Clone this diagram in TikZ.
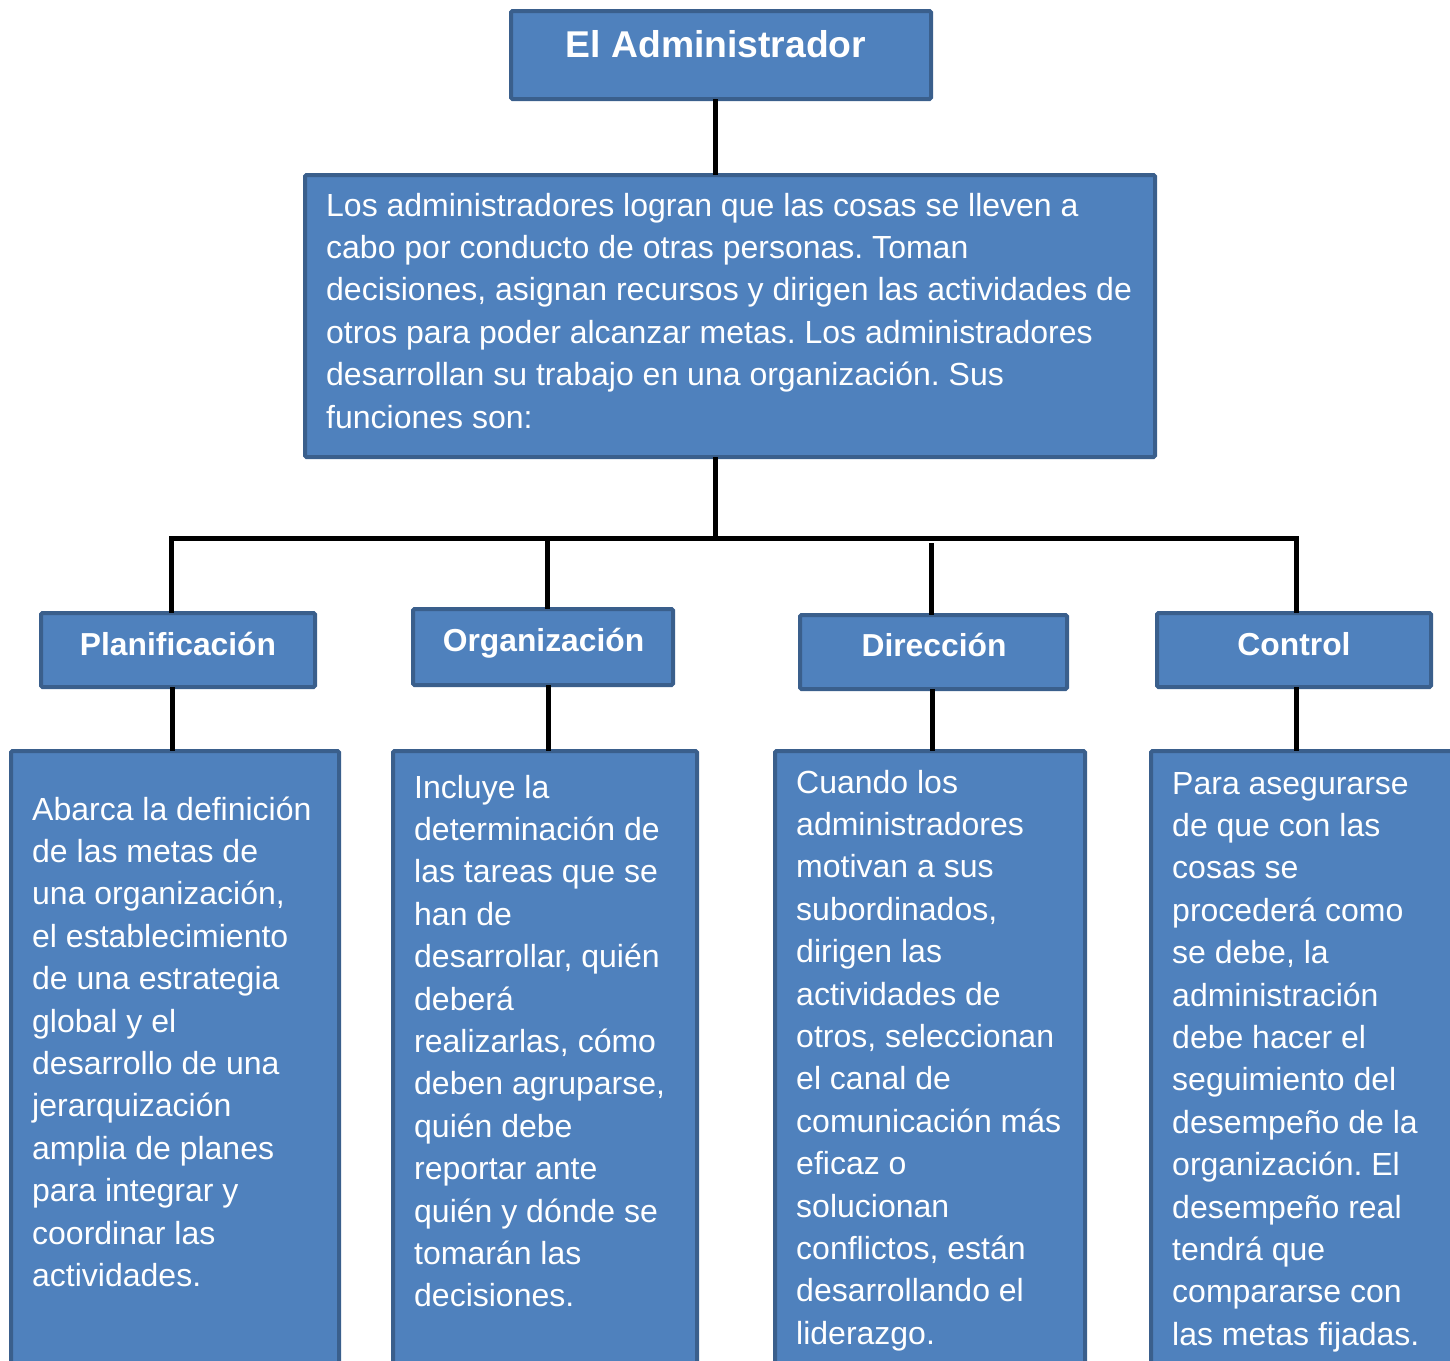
\documentclass[tikz,border=0pt]{standalone}
\usepackage{fontspec}
\setmainfont{Liberation Sans}
\definecolor{boxfill}{HTML}{4F81BD}
\definecolor{boxline}{HTML}{3A5F8C}
\tikzset{
  box/.style={draw=boxline, fill=boxfill, line width=4pt, rounded corners=1.5pt,
    rectangle, inner sep=0pt, outer sep=0pt, anchor=north west},
  conn/.style={draw=black, line width=5pt},
  titletxt/.style={text=white, inner sep=0pt, anchor=base, font=\bfseries\fontsize{37.3}{44}\selectfont},
  headtxt/.style={text=white, inner sep=0pt, anchor=base, font=\bfseries\fontsize{31.8}{38}\selectfont},
  bodytxt/.style={text=white, inner sep=0pt, anchor=base west, font=\fontsize{32}{42.4}\selectfont},
}
\newcommand{\bodypar}[1]{\parbox[t]{1000pt}{\raggedright\frenchspacing #1}}
\begin{document}
\begin{tikzpicture}[x=1pt,y=-1pt]
\useasboundingbox (0,0) rectangle (1450,1360);
\clip (0,0) rectangle (1450,1360);
% boxes
\node[box, minimum width=420pt, minimum height=88pt] (title) at (511,11) {};
\node[box, minimum width=850pt, minimum height=282pt] (main) at (305,175) {};
\node[box, minimum width=274pt, minimum height=74pt] (hplan) at (41,613) {};
\node[box, minimum width=260pt, minimum height=76pt] (horg) at (413,609) {};
\node[box, minimum width=267pt, minimum height=74pt] (hdir) at (800,615) {};
\node[box, minimum width=274pt, minimum height=74pt] (hctl) at (1157,613) {};
\node[box, minimum width=328pt, minimum height=680pt] (bplan) at (11,751) {};
\node[box, minimum width=304pt, minimum height=680pt] (borg) at (393,751) {};
\node[box, minimum width=310pt, minimum height=680pt] (bdir) at (775,751) {};
\node[box, minimum width=330pt, minimum height=680pt] (bctl) at (1151,751) {};
% connector points
\coordinate (busmid) at (715,538);
\coordinate (busL) at (171,538);
\coordinate (busR) at (1296,538);
\coordinate (busO) at (547,538);
\coordinate (busD) at (931,543);
% connectors
\draw[conn] (title.south -| busmid) -- (main.north -| busmid);
\draw[conn] (main.south -| busmid) -- (busmid);
\draw[conn, line cap=rect] (busL) -- (busR);
\draw[conn] (busL) -- (hplan.north -| busL);
\draw[conn] (busO) -- (horg.north -| busO);
\draw[conn] (busD) -- (hdir.north -| busD);
\draw[conn] (busR) -- (hctl.north -| busR);
\draw[conn] (172,687) coordinate (p1) -- (bplan.north -| p1);
\draw[conn] (548,685) coordinate (p2) -- (borg.north -| p2);
\draw[conn] (932,689) coordinate (p3) -- (bdir.north -| p3);
\draw[conn] (1296,687) coordinate (p4) -- (bctl.north -| p4);
% texts
\node[titletxt] (ttitle) at (716,57) {El Administrador};
\node[headtxt] (tplan) at (178,655) {Planificación};
\node[headtxt] (torg) at (543.5,651) {Organización};
\node[headtxt] (tdir) at (934,656) {Dirección};
\node[headtxt] (tctl) at (1294,655) {Control};
\node[bodytxt] (tmain) at (326,216) {\bodypar{Los administradores logran que las cosas se lleven a\\
cabo por conducto de otras personas. Toman\\
decisiones, asignan recursos y dirigen las actividades de\\
otros para poder alcanzar metas. Los administradores\\
desarrollan su trabajo en una organización. Sus\\
funciones son:}};
\node[bodytxt] (tbplan) at (32,820) {\bodypar{Abarca la definición\\
de las metas de\\
una organización,\\
el establecimiento\\
de una estrategia\\
global y el\\
desarrollo de una\\
jerarquización\\
amplia de planes\\
para integrar y\\
coordinar las\\
actividades.}};
\node[bodytxt] (tborg) at (414,798) {\bodypar{Incluye la\\
determinación de\\
las tareas que se\\
han de\\
desarrollar, quién\\
deberá\\
realizarlas, cómo\\
deben agruparse,\\
quién debe\\
reportar ante\\
quién y dónde se\\
tomarán las\\
decisiones.}};
\node[bodytxt] (tbdir) at (796,793) {\bodypar{Cuando los\\
administradores\\
motivan a sus\\
subordinados,\\
dirigen las\\
actividades de\\
otros, seleccionan\\
el canal de\\
comunicación más\\
eficaz o\\
solucionan\\
conflictos, están\\
desarrollando el\\
liderazgo.}};
\node[bodytxt] (tbctl) at (1172,794) {\bodypar{Para asegurarse\\
de que con las\\
cosas se\\
procederá como\\
se debe, la\\
administración\\
debe hacer el\\
seguimiento del\\
desempeño de la\\
organización. El\\
desempeño real\\
tendrá que\\
compararse con\\
las metas fijadas.}};
\end{tikzpicture}
\end{document}
